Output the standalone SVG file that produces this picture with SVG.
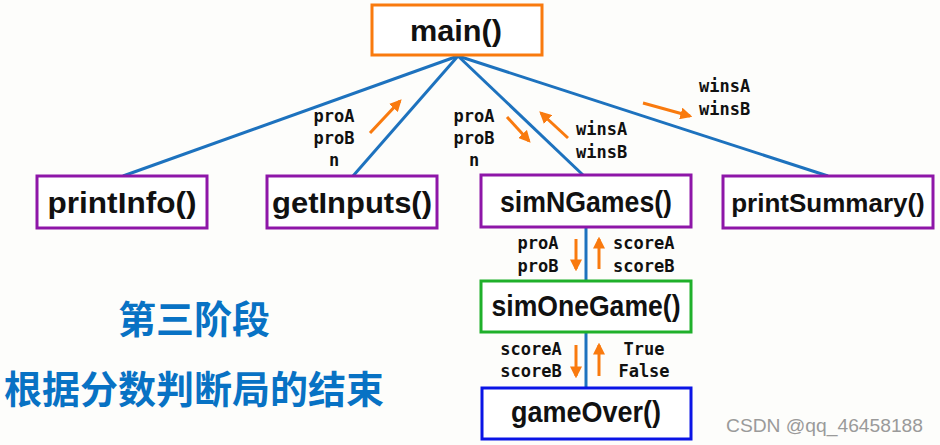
<svg xmlns="http://www.w3.org/2000/svg" width="940" height="445" viewBox="0 0 940 445">
<defs>
<style>
.box{fill:#fff;stroke-width:3}
.fn{font-family:"Liberation Sans",Arial,sans-serif;font-weight:bold;font-size:30px;fill:#111;text-anchor:middle}
.lbl{font-family:"DejaVu Sans Mono","Liberation Mono",monospace;font-weight:bold;font-size:17px;fill:#111}
.link{stroke:#1D72BE;stroke-width:3;fill:none}
.arr{stroke:#F97A0E;stroke-width:3;fill:none;marker-end:url(#ah)}
.cn{font-family:"Liberation Sans","Noto Sans CJK SC",sans-serif;font-weight:bold;font-size:38px;fill:#0872C4}
</style>
<marker id="ah" viewBox="0 0 10 10" refX="8" refY="5" markerWidth="4" markerHeight="4" orient="auto" markerUnits="strokeWidth">
<path d="M0,0 L10,5 L0,10 Z" fill="#F97A0E"/>
</marker>
</defs>
<rect width="940" height="445" fill="#FDFDFB"/>
<g id="connectors">
<line class="link" x1="458" y1="56" x2="123" y2="176"/>
<line class="link" x1="458" y1="56" x2="353" y2="176"/>
<line class="link" x1="458" y1="56" x2="583" y2="175"/>
<line class="link" x1="458" y1="56" x2="828" y2="176"/>
<line class="link" x1="586" y1="228" x2="586" y2="281"/>
<line class="link" x1="586" y1="332" x2="586" y2="388"/>
<line class="arr" x1="370" y1="133" x2="400" y2="101"/>
<line class="arr" x1="507" y1="117" x2="529" y2="141"/>
<line class="arr" x1="568" y1="138" x2="541" y2="113"/>
<line class="arr" x1="643" y1="103" x2="690" y2="116"/>
<line class="arr" x1="576" y1="239" x2="576" y2="269"/>
<line class="arr" x1="599" y1="269" x2="599" y2="239"/>
<line class="arr" x1="576" y1="345" x2="576" y2="376"/>
<line class="arr" x1="599" y1="376" x2="599" y2="345"/>
</g>
<g id="labels">
<text class="lbl" text-anchor="middle" x="334" y="122">proA</text>
<text class="lbl" text-anchor="middle" x="334" y="144">proB</text>
<text class="lbl" text-anchor="middle" x="334" y="166">n</text>
<text class="lbl" text-anchor="middle" x="474" y="122">proA</text>
<text class="lbl" text-anchor="middle" x="474" y="144">proB</text>
<text class="lbl" text-anchor="middle" x="474" y="166">n</text>
<text class="lbl" x="576" y="135">winsA</text>
<text class="lbl" x="576" y="158">winsB</text>
<text class="lbl" x="699" y="92">winsA</text>
<text class="lbl" x="699" y="115">winsB</text>
<text class="lbl" text-anchor="middle" x="538" y="249">proA</text>
<text class="lbl" text-anchor="middle" x="538" y="272">proB</text>
<text class="lbl" x="613" y="249">scoreA</text>
<text class="lbl" x="613" y="272">scoreB</text>
<text class="lbl" text-anchor="middle" x="531" y="355">scoreA</text>
<text class="lbl" text-anchor="middle" x="531" y="377">scoreB</text>
<text class="lbl" text-anchor="middle" x="644" y="355">True</text>
<text class="lbl" text-anchor="middle" x="644" y="377">False</text>
</g>
<g id="main">
<rect class="box" x="372" y="5" width="170" height="50" stroke="#F97A0E"/>
<text class="fn" x="456" y="41" textLength="92" lengthAdjust="spacingAndGlyphs">main()</text>
</g>
<g id="printInfo">
<rect class="box" x="37" y="176" width="170" height="52" stroke="#8E16A8"/>
<text class="fn" x="122" y="213" textLength="149" lengthAdjust="spacingAndGlyphs">printInfo()</text>
</g>
<g id="getInputs">
<rect class="box" x="267" y="176" width="170" height="52" stroke="#8E16A8"/>
<text class="fn" x="352" y="213" textLength="160" lengthAdjust="spacingAndGlyphs">getInputs()</text>
</g>
<g id="simNGames">
<rect class="box" x="481" y="175" width="210" height="52" stroke="#8E16A8"/>
<text class="fn" x="586" y="212" textLength="172" lengthAdjust="spacingAndGlyphs">simNGames()</text>
</g>
<g id="printSummary">
<rect class="box" x="723" y="176" width="210" height="52" stroke="#8E16A8"/>
<text class="fn" x="828" y="212" style="font-size:26px">printSummary()</text>
</g>
<g id="simOneGame">
<rect class="box" x="481" y="281" width="210" height="51" stroke="#1FB02A"/>
<text class="fn" x="586" y="316" textLength="189" lengthAdjust="spacingAndGlyphs">simOneGame()</text>
</g>
<g id="gameOver">
<rect class="box" x="482" y="388" width="209" height="51" stroke="#0A14E6"/>
<text class="fn" x="586" y="422" textLength="150" lengthAdjust="spacingAndGlyphs">gameOver()</text>
</g>
<g id="captions">
<text class="cn" x="118" y="333">第三阶段</text>
<text class="cn" x="4" y="403">根据分数判断局的结束</text>
<text x="726" y="432" textLength="197" lengthAdjust="spacingAndGlyphs" style="font-family:'Liberation Sans',Arial,sans-serif;font-size:18px;fill:#9a9a9a">CSDN @qq_46458188</text>
</g>
</svg>
